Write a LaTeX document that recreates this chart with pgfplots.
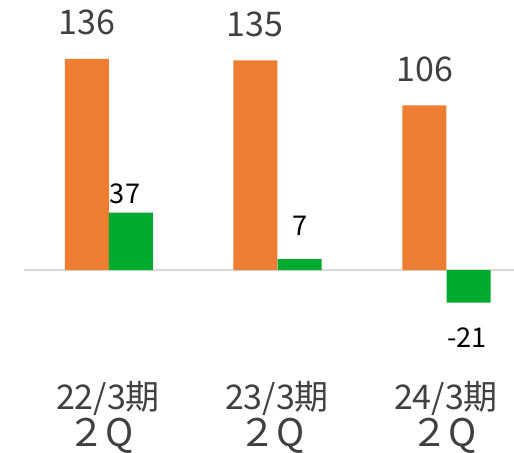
\documentclass[border=0pt]{standalone}
\usepackage{fontspec}
\setmainfont{Noto Sans CJK JP}
\usepackage{pgfplots}
\pgfplotsset{compat=1.18}
\usepackage{pgfplotstable}
\definecolor{orangebar}{HTML}{ED7D31}
\definecolor{greenbar}{HTML}{00AB2F}
\definecolor{txtgrey}{HTML}{404040}
\definecolor{basegrey}{HTML}{D9D9D9}

% value labels: x (px), y (data), text
\pgfplotstableread{
x y lab
87 159.4 136
255 158.4 135
425 129.1 106
}\biglabels
\pgfplotstableread{
x y lab
125 48.9 37
300 28.3 7
467 -43.8 -21
}\smalllabels
\pgfplotstableread{
x y lab
108 -82.4 22/3期
277 -82.4 23/3期
446 -82.4 24/3期
}\catlabels
\pgfplotstableread{
x y lab
101 -106.6 ２Q
272 -106.6 ２Q
444 -106.6 ２Q
}\qlabels

\begin{document}
\begin{tikzpicture}
\begin{axis}[
  scale only axis,
  width=257pt, height=226pt,
  xmin=0, xmax=514,
  ymin=-117.2, ymax=173.9,
  axis lines=none,
  ticks=none,
  clip=false,
]
\addplot[basegrey, line width=1pt, forget plot] coordinates {(24,0) (514,0)};
\addplot[ybar, bar width=44, bar shift=0pt, fill=orangebar, draw=none, forget plot]
  coordinates {(86.8,136) (255.3,135) (424.3,106)};
\addplot[ybar, bar width=44, bar shift=0pt, fill=greenbar, draw=none, forget plot]
  coordinates {(130.8,37) (299.5,7) (468.7,-21)};
\addplot[only marks, mark=none, point meta=explicit symbolic,
  nodes near coords, every node near coord/.style={anchor=center, inner sep=0pt, font=\fontsize{17pt}{20pt}\selectfont, text=txtgrey}]
  table[x=x, y=y, meta=lab] {\biglabels};
\addplot[only marks, mark=none, point meta=explicit symbolic,
  nodes near coords, every node near coord/.style={anchor=center, inner sep=0pt, font=\fontsize{13.6pt}{16pt}\selectfont, text=black}]
  table[x=x, y=y, meta=lab] {\smalllabels};
\addplot[only marks, mark=none, point meta=explicit symbolic,
  nodes near coords, every node near coord/.style={anchor=center, inner sep=0pt, font=\fontsize{17pt}{20pt}\selectfont, text=txtgrey}]
  table[x=x, y=y, meta=lab] {\catlabels};
\addplot[only marks, mark=none, point meta=explicit symbolic,
  nodes near coords, every node near coord/.style={anchor=center, inner sep=0pt, font=\fontsize{19pt}{22pt}\selectfont, text=txtgrey}]
  table[x=x, y=y, meta=lab] {\qlabels};
\end{axis}
\pgfresetboundingbox
\useasboundingbox (current axis.south west) rectangle (current axis.north east);
\end{tikzpicture}
\end{document}
